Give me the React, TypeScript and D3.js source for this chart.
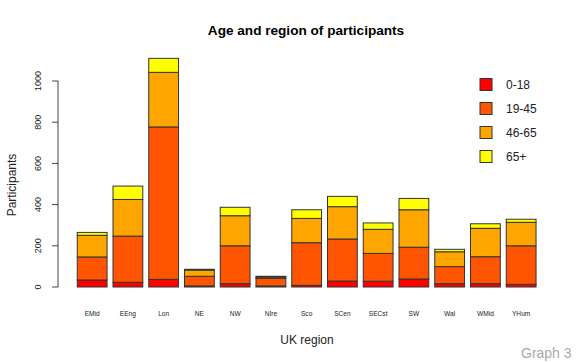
import React from 'react';
import * as d3 from 'd3';

// regions on the x axis
const regions = ['EMid', 'EEng', 'Lon', 'NE', 'NW', 'NIre', 'Sco', 'SCen', 'SECst', 'SW', 'Wal', 'WMid', 'YHum'];
const regionLabels = ['EMid', 'EEng', 'Lon', 'NE', 'NW', 'NIre', 'Sco', 'SCen', 'SECst', 'SW', 'Wal', 'WMid', 'YHum'];

// participants per age group, one value per region
const age0to18 = [34, 23, 37, 5, 16, 5, 8, 29, 28, 39, 16, 16, 13];
const age19to45 = [112, 224, 740, 47, 184, 37, 207, 204, 135, 154, 83, 131, 187];
const age46to65 = [105, 178, 265, 30, 146, 6, 118, 157, 117, 182, 72, 138, 114];
const age65plus = [14, 65, 68, 4, 41, 4, 42, 50, 31, 55, 12, 22, 15];

const groups = ['0-18', '19-45', '46-65', '65+'];
const colors = ['#FF0000', '#FF5500', '#FFA500', '#FFFF00'];
const yTicks = [0, 200, 400, 600, 800, 1000];

const W = 585;
const H = 363;
const font = 'Liberation Sans, Arial, sans-serif';

export default function App() {
  const series = [age0to18, age19to45, age46to65, age65plus];
  const rows = regions.map((r, i) => {
    const row: any = { region: r };
    groups.forEach((g, k) => (row[g] = series[k][i]));
    return row;
  });
  const stacked = d3.stack().keys(groups)(rows);

  const x = d3
    .scaleBand()
    .domain(regions)
    .range([71.3, 542])
    .paddingInner(1 / 6)
    .paddingOuter(1 / 6);
  const y = d3.scaleLinear().domain([0, 1000]).range([287, 81]);
  const color = d3.scaleOrdinal<string>().domain(groups).range(colors);

  const axisX = 58;

  return (
    <svg width={W} height={H} style={{ position: 'absolute', left: 0, top: 0 }}>
      <rect width={W} height={H} fill="#fff" />
      <text x={306} y={35} textAnchor="middle" fontFamily={font} fontWeight="bold" fontSize={13.6}>
        Age and region of participants
      </text>

      {/* y axis */}
      <line x1={axisX} x2={axisX} y1={y(0)} y2={y(1000)} stroke="#444" />
      {yTicks.map((t) => (
        <g key={t}>
          <line x1={axisX - 6} x2={axisX} y1={y(t)} y2={y(t)} stroke="#444" />
          <text
            transform={`translate(${41},${y(t)}) rotate(-90)`}
            textAnchor="middle"
            fontFamily={font}
            fontSize={9}
            fill="#222"
          >
            {t}
          </text>
        </g>
      ))}
      <text
        transform={`translate(${16},${185}) rotate(-90)`}
        textAnchor="middle"
        fontFamily={font}
        fontSize={12}
        fill="#222"
      >
        Participants
      </text>

      {/* bars */}
      {stacked.map((s) => (
        <g key={s.key} fill={color(s.key)}>
          {s.map((d: any) => (
            <rect
              key={d.data.region}
              x={x(d.data.region)}
              y={y(d[1])}
              width={x.bandwidth()}
              height={y(d[0]) - y(d[1])}
              stroke="#333"
              strokeWidth={1}
            />
          ))}
        </g>
      ))}

      {/* x labels */}
      {regions.map((r, i) => (
        <text
          key={r}
          x={(x(r) as number) + x.bandwidth() / 2}
          y={316}
          textAnchor="middle"
          fontFamily={font}
          fontSize={6.6}
          fill="#222"
        >
          {regionLabels[i]}
        </text>
      ))}
      <text x={307} y={344} textAnchor="middle" fontFamily={font} fontSize={12} fill="#222">
        UK region
      </text>

      {/* legend */}
      {groups.map((g, i) => (
        <g key={g} transform={`translate(480,${78.5 + i * 24})`}>
          <rect width={12} height={12} fill={color(g)} stroke="#333" />
          <text x={26} y={10.5} fontFamily={font} fontSize={12} fill="#222">
            {g}
          </text>
        </g>
      ))}

      <text x={521} y={358} fontFamily={font} fontSize={14} fill="#aaa">
        Graph 3
      </text>
    </svg>
  );
}
